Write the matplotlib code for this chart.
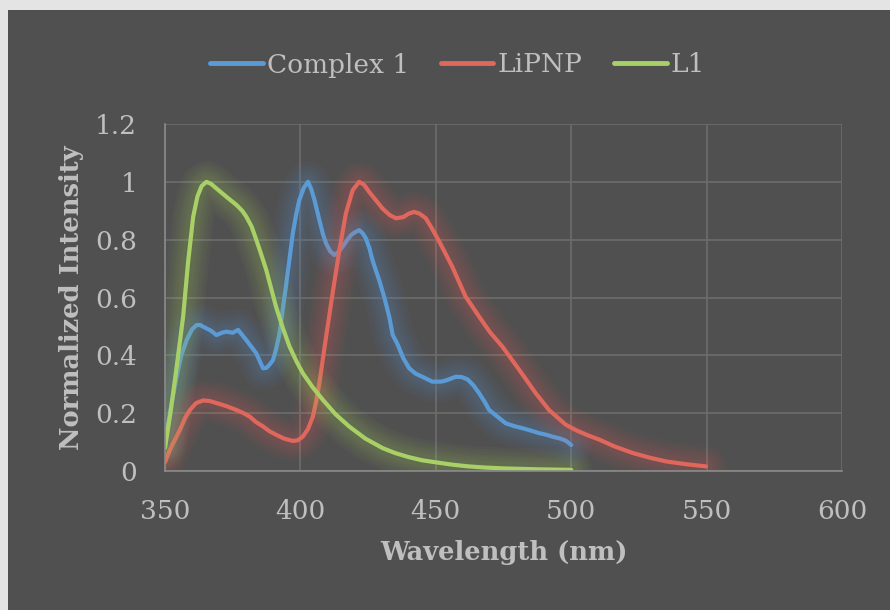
import matplotlib
matplotlib.use("Agg")
import matplotlib.pyplot as plt
import matplotlib.patheffects as pe
from matplotlib.patches import Rectangle

# Emission spectra
complex1_x = [350, 352, 354.3, 356, 358, 360, 361.7, 363, 364.1, 367, 369, 371, 372.7,
              375, 377, 380, 383.7, 385, 386.2, 387.5, 388.8, 389.9, 391, 392.3, 393.5,
              394.8, 396, 397.2, 398.5, 399.6, 401.3, 402.8, 404, 405.2, 407, 408.3,
              409.5, 411, 412.5, 414, 415.6, 417, 418.7, 420, 421.7, 423, 424.2, 425.5,
              426.6, 428, 429.1, 431, 432.8, 434.1, 435.8, 438, 440.2, 442.5, 445,
              448.7, 452, 454, 457.4, 459.5, 461.7, 464, 466, 468, 469.7, 472.5, 475.8,
              479, 482, 485, 488.1, 491, 493, 496, 498, 500]
complex1_y = [0.10, 0.21, 0.326, 0.40, 0.453, 0.49, 0.505, 0.505, 0.499, 0.485, 0.47,
              0.478, 0.482, 0.478, 0.488, 0.453, 0.407, 0.38, 0.355, 0.357, 0.37, 0.384,
              0.42, 0.476, 0.56, 0.649, 0.735, 0.822, 0.89, 0.937, 0.98, 1.0, 0.975,
              0.937, 0.868, 0.82, 0.787, 0.76, 0.747, 0.757, 0.776, 0.795, 0.816, 0.825,
              0.833, 0.822, 0.804, 0.77, 0.73, 0.69, 0.66, 0.60, 0.534, 0.47, 0.44,
              0.39, 0.355, 0.337, 0.326, 0.309, 0.309, 0.314, 0.326, 0.325, 0.317,
              0.295, 0.269, 0.24, 0.211, 0.19, 0.165, 0.155, 0.148, 0.14, 0.131, 0.125,
              0.119, 0.112, 0.105, 0.09]

lipnp_x = [350, 351.8, 353.5, 355.5, 357.5, 359.2, 361.5, 364.1, 366.5, 369, 372.5,
           376.4, 379, 381.3, 383.5, 386.2, 388.5, 391.1, 394, 397.2, 399, 400.9,
           402.8, 404.6, 405.8, 407, 409.5, 411.9, 414.4, 416.8, 419.3, 421.7, 423.5,
           425.4, 428, 430.3, 433, 435.3, 438, 440, 442, 444, 446.3, 448.5, 451.2,
           456.1, 461, 466, 470, 474.6, 480.8, 486.9, 491.8, 498, 502, 506, 510.5,
           516, 522.8, 529, 535.1, 542, 549.8]
lipnp_y = [0.03, 0.073, 0.105, 0.142, 0.185, 0.211, 0.235, 0.244, 0.242, 0.235, 0.225,
           0.211, 0.20, 0.188, 0.17, 0.154, 0.138, 0.125, 0.112, 0.104, 0.106, 0.119,
           0.145, 0.188, 0.24, 0.304, 0.465, 0.615, 0.764, 0.891, 0.971, 1.0, 0.99,
           0.965, 0.935, 0.908, 0.885, 0.874, 0.878, 0.89, 0.896, 0.89, 0.874, 0.84,
           0.795, 0.706, 0.603, 0.534, 0.48, 0.43, 0.35, 0.269, 0.211, 0.16, 0.14,
           0.124, 0.108, 0.085, 0.062, 0.046, 0.033, 0.024, 0.016]

l1_x = [350, 352, 354.3, 356.7, 358.5, 360.4, 362, 363.5, 365.3, 367, 369, 372.7, 376.4,
        378.5, 380, 382, 383.7, 385.5, 387.4, 391, 393.5, 396, 398.5, 400.9, 404.5,
        408.3, 413, 418, 424, 430.4, 435, 440, 445, 450, 456, 462, 468, 475, 487, 500]
l1_y = [0.08, 0.20, 0.36, 0.534, 0.72, 0.879, 0.95, 0.985, 1.0, 0.993, 0.977, 0.948,
        0.92, 0.90, 0.88, 0.845, 0.80, 0.75, 0.695, 0.568, 0.495, 0.43, 0.38, 0.338,
        0.29, 0.246, 0.196, 0.154, 0.112, 0.079, 0.062, 0.048, 0.037, 0.03, 0.022,
        0.016, 0.012, 0.009, 0.006, 0.004]

x_ticks = [350, 400, 450, 500, 550, 600]
y_ticks = [0, 0.2, 0.4, 0.6, 0.8, 1.0, 1.2]
y_tick_labels = ["0", "0.2", "0.4", "0.6", "0.8", "1", "1.2"]

bg = "#505050"
text_col = "#bfbfbf"
plt.rcParams["font.family"] = ["DejaVu Serif"]

fig = plt.figure(figsize=(8.9, 6.1), dpi=100)
fig.patch.set_facecolor("#e4e4e4")
fig.patches.append(Rectangle((8 / 890, 0), 1, 1 - 10 / 610, transform=fig.transFigure,
                             facecolor=bg, edgecolor="none", zorder=-1))

ax = fig.add_axes([165 / 890, 1 - 471 / 610, (842 - 165) / 890, (471 - 124) / 610])
ax.set_facecolor(bg)


def glow(color):
    # soft halo like the Excel "glow" effect, built from several faint strokes
    fx = [pe.Stroke(linewidth=w, foreground=color, alpha=0.04)
          for w in (30, 26, 22, 18, 15, 12, 9)]
    return fx + [pe.Normal()]


series = [
    (complex1_x, complex1_y, "Complex 1", "#5b9bd5"),
    (lipnp_x, lipnp_y, "LiPNP", "#e0675c"),
    (l1_x, l1_y, "L1", "#a8d067"),
]
handles = []
for xs, ys, name, col in series:
    ax.plot(xs, ys, color=col, lw=3, solid_capstyle="round", solid_joinstyle="round",
            label=name, path_effects=glow(col))
    handles.append(plt.Line2D([], [], color=col, lw=3.5, solid_capstyle="round"))

ax.set_xlim(350, 600)
ax.set_ylim(0, 1.2)
ax.set_xticks(x_ticks)
ax.set_yticks(y_ticks)
ax.set_yticklabels(y_tick_labels)
ax.grid(True, color="#6c6c6c", lw=1.2)
ax.set_axisbelow(True)
for s in ["top", "right"]:
    ax.spines[s].set_visible(False)
for s in ["left", "bottom"]:
    ax.spines[s].set_color("#8a8a8a")
    ax.spines[s].set_linewidth(1.2)
ax.tick_params(length=0, labelsize=19, colors=text_col)
ax.tick_params(axis="x", pad=20)
ax.tick_params(axis="y", pad=20)

ax.set_xlabel("Wavelength (nm)", fontsize=18.5, fontweight="bold", color=text_col,
              labelpad=12)
ax.set_ylabel("Normalized Intensity", fontsize=18.5, fontweight="bold", color=text_col,
              labelpad=8)

fig.legend(handles, [s[2] for s in series], loc="center",
           bbox_to_anchor=(0.514, 1 - 65 / 610), ncol=3, frameon=False,
           fontsize=19, handlelength=2.0, handletextpad=0.15,
           columnspacing=1.2, labelcolor=text_col)

fig.savefig("out.png", dpi=100, facecolor=fig.get_facecolor())
